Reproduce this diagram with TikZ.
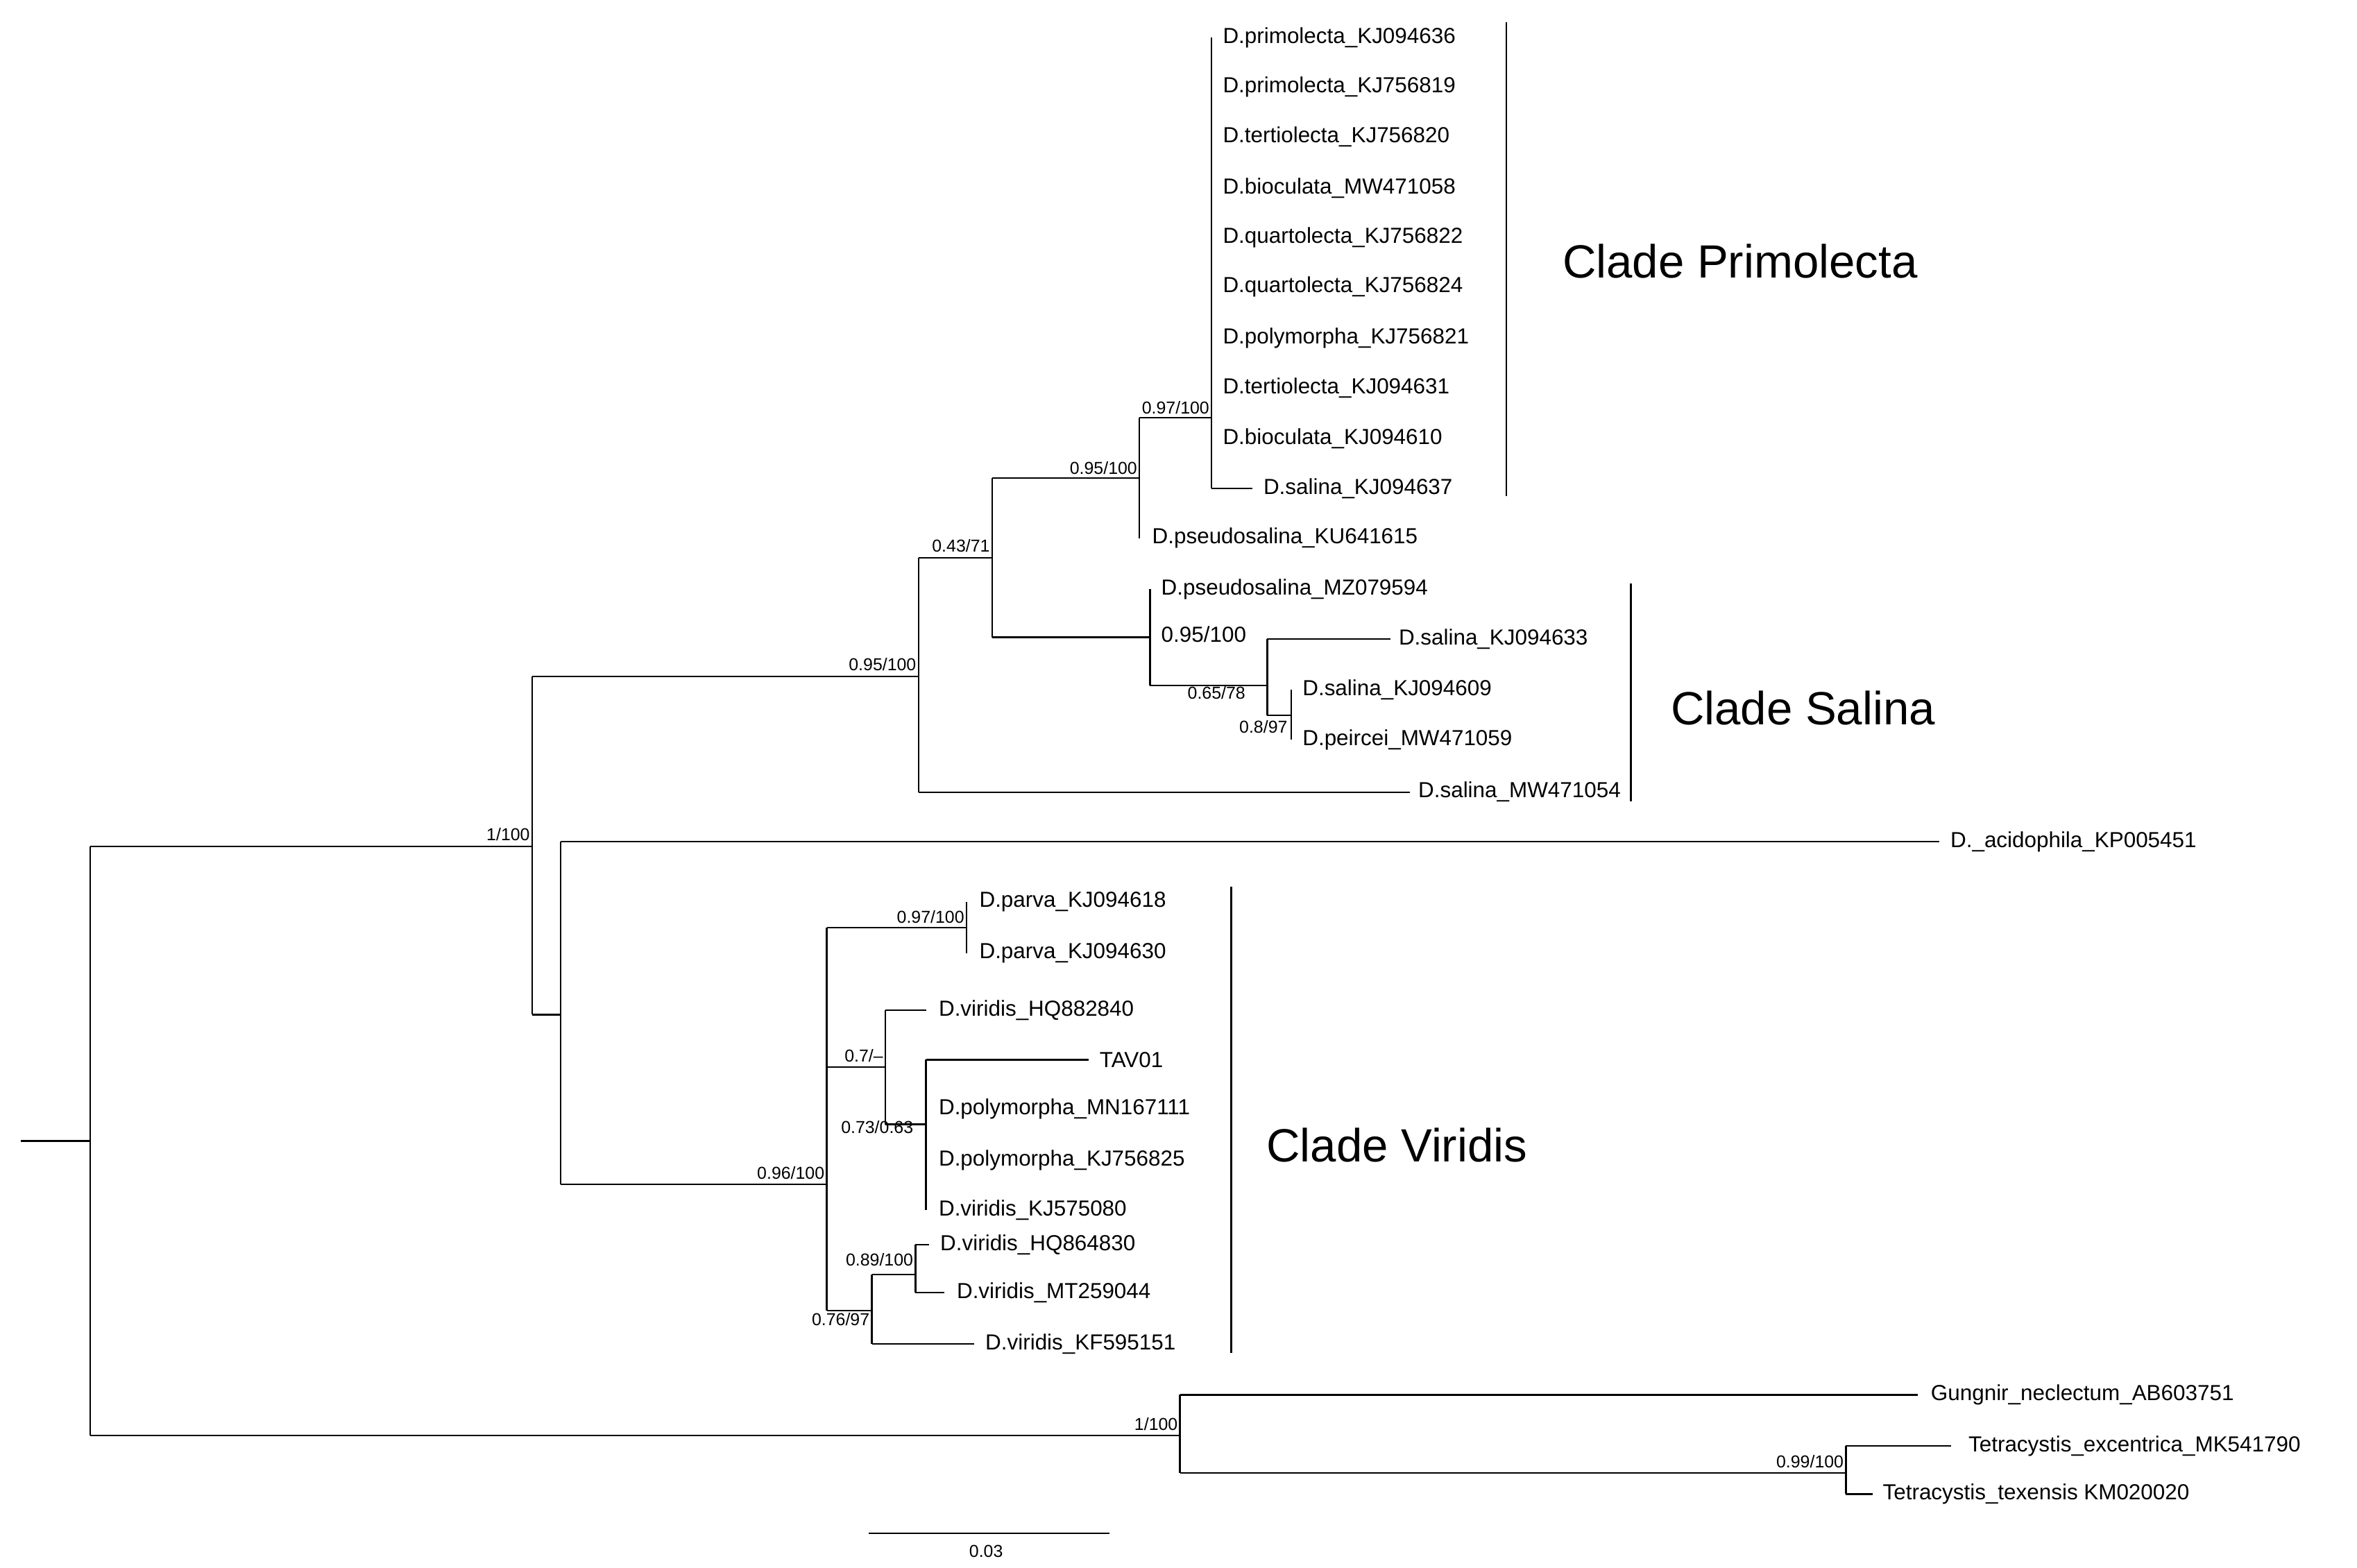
\documentclass[tikz,border=0pt]{standalone}
\usepackage{fontspec}
\setmainfont{Liberation Sans}
\begin{document}
\begin{tikzpicture}[x=1pt,y=-1pt,line width=1.1pt,
 tip/.style={anchor=west,inner sep=0pt,font=\fontsize{14.5}{16}\selectfont},
 sup/.style={inner sep=1pt,font=\fontsize{11.5}{13}\selectfont},
 clade/.style={anchor=west,inner sep=0pt,font=\fontsize{31}{34}\selectfont}]
\useasboundingbox (0,0) rectangle (1568,1043);
% root
\draw (14,759) -- (60,759);
\draw (60,563) -- (60,955);
\draw (60,563) -- (354,563);
\draw (354,450) -- (354,675);
\draw (354,450) -- (611,450);
\draw (611,371) -- (611,527);
\draw (611,527) -- (938,527);
\draw (611,371) -- (660,371);
\draw (660,318) -- (660,424);
\draw (660,318) -- (758,318);
\draw (758,278) -- (758,358);
\draw (758,278) -- (806,278);
\draw (806,25) -- (806,325);
\draw (806,325) -- (833,325);
\draw (660,424) -- (765,424);
\draw (765,392) -- (765,456);
\draw (765,456) -- (843,456);
\draw (843,425) -- (843,476);
\draw (843,425) -- (925,425);
\draw (843,476) -- (859,476);
\draw (859,459) -- (859,492);
% viridis part
\draw (354,675) -- (373,675);
\draw (373,560) -- (373,788);
\draw (373,560) -- (1290,560);
\draw (373,788) -- (550,788);
\draw (550,617) -- (550,872);
\draw (550,617) -- (643,617);
\draw (643,600) -- (643,634);
\draw (550,710) -- (589,710);
\draw (589,672) -- (589,748);
\draw (589,672) -- (616,672);
\draw (589,748) -- (616,748);
\draw (616,705) -- (616,805);
\draw (616,705) -- (724,705);
\draw (550,872) -- (580,872);
\draw (580,848) -- (580,894);
\draw (580,848) -- (609,848);
\draw (609,828) -- (609,860);
\draw (609,828) -- (618,828);
\draw (609,860) -- (628,860);
\draw (580,894) -- (648,894);
% outgroup
\draw (60,955) -- (785,955);
\draw (785,928) -- (785,980);
\draw (785,928) -- (1276,928);
\draw (785,980) -- (1228,980);
\draw (1228,962) -- (1228,994);
\draw (1228,962) -- (1298,962);
\draw (1228,994) -- (1246,994);
% tips
\foreach \y/\t in {25/D.primolecta\_KJ094636,58/D.primolecta\_KJ756819,91/D.tertiolecta\_KJ756820,125/D.bioculata\_MW471058,158/D.quartolecta\_KJ756822,191/D.quartolecta\_KJ756824,225/D.polymorpha\_KJ756821,258/D.tertiolecta\_KJ094631,292/D.bioculata\_KJ094610}
  \node[tip] at (813,\y) {\t};
\node[tip] (s637) at (840,325) {D.salina\_KJ094637};
\node[tip] at (766,358) {D.pseudosalina\_KU641615};
\node[tip] at (772,392) {D.pseudosalina\_MZ079594};
\node[tip] at (930,425) {D.salina\_KJ094633};
\node[tip] at (866,459) {D.salina\_KJ094609};
\node[tip] at (866,492) {D.peircei\_MW471059};
\node[tip] at (943,527) {D.salina\_MW471054};
\node[tip] at (1297,560) {D.\_acidophila\_KP005451};
\node[tip] at (651,600) {D.parva\_KJ094618};
\node[tip] at (651,634) {D.parva\_KJ094630};
\node[tip] at (624,672) {D.viridis\_HQ882840};
\node[tip] at (731,705) {TAV01};
\node[tip] at (624,738) {D.polymorpha\_MN167111};
\node[tip] at (624,772) {D.polymorpha\_KJ756825};
\node[tip] at (624,805) {D.viridis\_KJ575080};
\node[tip] at (625,828) {D.viridis\_HQ864830};
\node[tip] at (636,860) {D.viridis\_MT259044};
\node[tip] at (655,894) {D.viridis\_KF595151};
\node[tip] at (1284,928) {Gungnir\_neclectum\_AB603751};
\node[tip] at (1309,962) {Tetracystis\_excentrica\_MK541790};
\node[tip] at (1252,994) {Tetracystis\_texensis KM020020};
% supports
\node[sup,anchor=south east] at (806,277) {0.97/100};
\node[sup,anchor=south east] at (758,317) {0.95/100};
\node[sup,anchor=south east] at (660,369) {0.43/71};
\node[sup,anchor=south east] at (611,448) {0.95/100};
\node[sup,anchor=south east] at (354,561) {1/100};
\node[sup,anchor=west,font=\fontsize{14.5}{16}\selectfont] at (771,422) {0.95/100};
\node[sup,anchor=north east] at (830,455) {0.65/78};
\node[sup,anchor=north east] at (858,478) {0.8/97};
\node[sup,anchor=south east] at (643,616) {0.97/100};
\node[sup,anchor=south east] at (589,708) {0.7/--};
\node[sup,anchor=north west] at (558,744) {0.73/0.63};
\node[sup,anchor=south east] at (550,786) {0.96/100};
\node[sup,anchor=south east] at (609,844) {0.89/100};
\node[sup,anchor=north east] at (580,872) {0.76/97};
\node[sup,anchor=south east] at (785,953) {1/100};
\node[sup,anchor=south east] at (1228,978) {0.99/100};
% clade bars
\draw (1002,15) -- (1002,330);
\draw (1085,388) -- (1085,533);
\draw (819,590) -- (819,900);
\node[clade] at (1039,174) {Clade Primolecta};
\node[clade] at (1111,471) {Clade Salina};
\node[clade] at (842,762) {Clade Viridis};
% scale
\draw[line width=0.7pt] (578,1020) -- (738,1020);
\node[sup] at (656,1032) {0.03};
\end{tikzpicture}
\end{document}
